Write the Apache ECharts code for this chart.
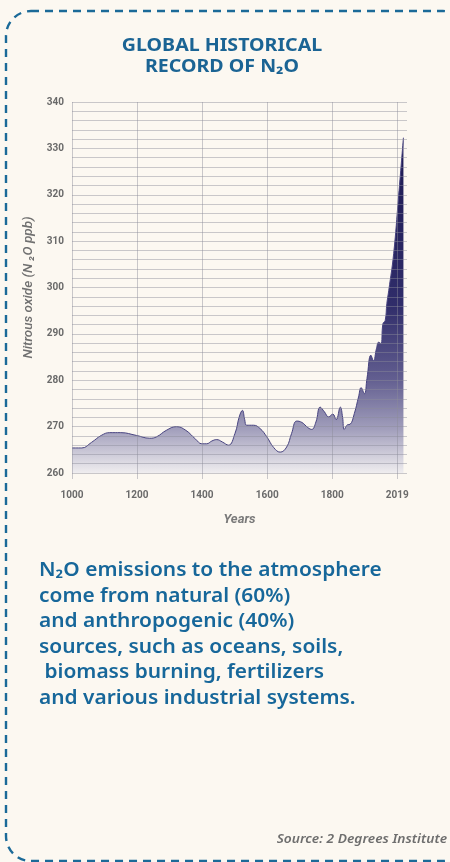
<!DOCTYPE html>
<html><head><meta charset="utf-8">
<script src="https://cdn.jsdelivr.net/npm/echarts@6/dist/echarts.min.js"></script>
<style>html,body{margin:0;padding:0;background:#fcf8f1;}#c{width:450px;height:862px;}</style>
</head><body><div id="c"></div>
<script>
const years = [1000,1030,1060,1090,1116,1150,1198,1239,1260,1290,1321,1350,1380,1399,1414,1430,1445,1462,1481,1501,1515,1524,1531,1537,1558,1578,1599,1620,1640,1660,1675,1691,1707,1725,1737,1750,1763,1776,1789,1802,1812,1825,1832,1837,1847,1855,1868,1881,1889,1899,1907,1919,1927,1936,1943,1950,1956,1963,1968,1974,1989,2004,2015,2019];
const values = [265.4,265.4,266.6,268.1,268.7,268.7,268.1,267.5,267.8,269.2,270.0,269.2,267.3,266.3,266.3,266.9,267.2,266.7,266.0,268.5,272.3,273.5,271.5,270.3,270.3,269.6,267.8,265.5,264.5,265.6,268.5,271.2,270.9,269.8,269.4,271.0,274.2,273.2,272.1,272.7,271.5,274.2,272.0,269.4,270.4,270.5,272.8,276.4,278.4,277.1,280.4,285.4,284.2,286.8,288.2,287.9,292.2,292.9,296.5,299.4,307.3,319.5,328.9,332.3];
const xTickValues = [1000,1200,1400,1600,1800,2000];
const xTickLabels = ['1000','1200','1400','1600','1800','2019'];
const yTickLabels = ['260','270','280','290','300','310','320','330','340'];
const titleLines = ['GLOBAL HISTORICAL', 'RECORD OF N\u2082O'];
const bodyLines = [
  'N\u2082O emissions to the atmosphere',
  'come from natural (60%)',
  'and anthropogenic (40%)',
  'sources, such as oceans, soils,',
  ' biomass burning, fertilizers',
  'and various industrial systems.'
];
const sourceText = 'Source: 2 Degrees Institute';
const yName = 'Nitrous oxide (N \u2082O ppb)';
const xName = 'Years';

const chart = echarts.init(document.getElementById('c'), null, {renderer: 'canvas'});
const gridColor = 'rgba(140,140,152,0.45)';
const blue = '#17679a';
const labelFont = {color: '#6a6a6a', fontSize: 10, fontWeight: 'bold', fontFamily: 'Roboto, Arial, sans-serif'};

const graphics = [
  {type: 'rect', shape: {x: 6, y: 11, width: 462, height: 850, r: 25}, style: {fill: 'none', stroke: '#1b6a98', lineWidth: 2.4, lineDash: [8, 6]}, z: 10}
];
titleLines.forEach((t, i) => graphics.push({
  type: 'text', x: 222, y: 46 + i * 21, scaleX: 1.12,
  style: {text: t, fill: '#1b6494', font: 'bold 17.5px "Noto Sans", sans-serif', textAlign: 'center', textVerticalAlign: 'middle'}
}));
bodyLines.forEach((t, i) => graphics.push({
  type: 'text', x: 39, y: 571 + i * 25.5, scaleX: 1.1,
  style: {text: t, fill: blue, font: '600 19px "Noto Sans", sans-serif', textAlign: 'left', textVerticalAlign: 'middle'}
}));
graphics.push({type: 'text', x: 447, y: 839, scaleX: 1.1,
  style: {text: sourceText, fill: '#6e6e6e', font: 'italic 600 12.5px "Noto Sans", sans-serif', textAlign: 'right', textVerticalAlign: 'middle'}});

chart.setOption({
  backgroundColor: '#fcf8f1',
  animation: false,
  grid: {left: 72, right: 43, top: 102, bottom: 389},
  xAxis: {
    type: 'value', min: 1000, max: 2030, interval: 200, z: 3,
    name: xName, nameLocation: 'middle', nameGap: 40,
    nameTextStyle: {color: '#7a7a7a', fontSize: 13, fontStyle: 'italic', fontWeight: 'bold', fontFamily: 'Roboto, sans-serif'},
    axisLine: {show: false},
    axisTick: {show: true, length: 6, lineStyle: {color: gridColor}},
    axisLabel: Object.assign({margin: 17, showMaxLabel: false, formatter: v => { const i = xTickValues.indexOf(v); return i >= 0 ? xTickLabels[i] : ''; }}, labelFont),
    splitLine: {show: true, showMaxLine: false, lineStyle: {color: gridColor, width: 1}}
  },
  yAxis: {
    type: 'value', min: 260, max: 340, interval: 10, z: 3,
    name: yName, nameLocation: 'middle', nameGap: 29, nameRotate: 90,
    nameTextStyle: {color: '#707070', fontSize: 13.5, fontStyle: 'italic', fontWeight: 500, fontFamily: 'Roboto, sans-serif'},
    axisLine: {show: false}, axisTick: {show: false},
    axisLabel: Object.assign({margin: 8, formatter: v => yTickLabels[Math.round((v - 260) / 10)] || ''}, labelFont),
    splitLine: {show: true, lineStyle: {color: gridColor, width: 1}},
    minorTick: {show: false, splitNumber: 5},
    minorSplitLine: {show: true, lineStyle: {color: gridColor, width: 1}}
  },
  series: [{
    type: 'line', data: years.map((y, i) => [y, values[i]]),
    smooth: 0.45, symbol: 'none', z: 2,
    lineStyle: {color: '#46427f', width: 1},
    areaStyle: {origin: 'start', opacity: 1, color: new echarts.graphic.LinearGradient(0, 0, 0, 1, [
      {offset: 0, color: '#1c1952'},
      {offset: 0.5, color: '#302d6a'},
      {offset: 0.72, color: '#625e90'},
      {offset: 0.87, color: '#a29fbc'},
      {offset: 1, color: '#efedef'}
    ])}
  }],
  graphic: graphics
});
</script>
</body></html>
